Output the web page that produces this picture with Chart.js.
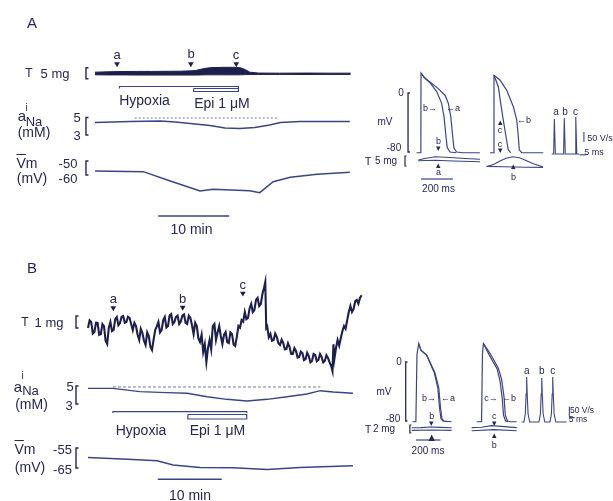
<!DOCTYPE html>
<html><head><meta charset="utf-8">
<script src="https://cdn.jsdelivr.net/npm/chart.js@4.4.1/dist/chart.umd.min.js"></script>
<style>
html,body{margin:0;padding:0;background:#fff;}
#wrap{position:relative;width:613px;height:501px;overflow:hidden;font-family:"Liberation Sans",Arial,Helvetica,sans-serif;color:#25284f;}
#c{position:absolute;left:0;top:0;}
.t{position:absolute;transform:translate(-50%,-50%);white-space:nowrap;line-height:1;}
</style></head>
<body><div id="wrap"><canvas id="c" width="613" height="501"></canvas></div>
<script>
// ================= DATA =================
// ---- Panel A, slow time course (time in min) ----
const tA_T   = [0,2,4,6,8,10,12,13.5,14.2,14.9,15.6,16.5,18,19.5,20.5,21.2,21.8,23,26,30,33,36];
const TA_hi  = [0.6,0.8,0.9,0.95,0.95,1.0,1.05,1.2,1.4,1.9,2.4,2.7,2.8,2.8,2.6,1.7,0.6,0.2,0.15,0.2,0.15,0.15];   // tension envelope, mg
const TA_lo  = [-0.6,-0.65,-0.65,-0.7,-0.7,-0.7,-0.7,-0.7,-0.7,-0.65,-0.6,-0.6,-0.6,-0.6,-0.6,-0.5,-0.45,-0.4,-0.4,-0.45,-0.4,-0.4];
const marksA_t = [3.1,13.5,19.9];
const markLabels = ['a','b','c'];
const hypoxiaA = [3.45,20.2];
const epiA     = [13.9,20.2];
const tA_Na  = [0,4.9,9.2,11.3,14.1,16.2,18.3,20.4,22.5,24.6,26.1,28.9,33.1,35.9];
const NaA    = [4.43,4.54,4.6,4.49,4.26,4.09,3.8,3.74,3.86,4.14,4.43,4.54,4.54,4.54];   // mM
const NaA_ref = {t:[5.6,25.6], v:4.94};
const tA_Vm  = [0,6.8,10.6,14.8,16.6,21.8,23.2,25.1,27.5,31.3,35.9];
const VmA    = [-57.1,-57.6,-64.3,-71.4,-70.2,-71.2,-72.6,-64.8,-61.6,-59.5,-58.1];    // mV

// ---- Panel B, slow time course (time in min) ----
const tB_T = [0,0.25,0.5,0.75,1,1.25,1.5,1.75,2,2.25,2.5,2.75,3,3.25,3.5,3.75,4,4.25,4.5,4.75,5,5.25,5.5,5.75,6,6.25,6.5,6.75,7,7.25,7.5,7.75,8,8.25,8.5,8.75,9,9.25,9.5,9.75,10,10.25,10.5,10.75,11,11.25,11.5,11.75,12,12.25,12.5,12.75,13,13.25,13.5,13.75,14,14.25,14.5,14.75,15,15.25,15.5,15.75,16,16.25,16.5,16.75,17,17.25,17.5,17.75,18,18.25,18.5,18.75,19,19.25,19.5,19.75,20,20.25,20.5,20.75,21,21.25,21.5,21.75,22,22.25,22.5,22.75,23,23.25,23.5,23.75,24,24.25,24.5,24.75,25,25.25,25.5,25.75,26,26.25,26.5,26.75,27,27.25,27.5,27.7,27.85,28,28.25,28.5,28.75,29,29.25,29.5,29.75,30,30.25,30.5,30.75,31,31.25,31.5,31.75,32,32.25,32.5,32.75,33,33.25,33.5,33.75,34,34.25,34.5,34.75,35,35.25,35.5,35.75,36,36.25,36.5,36.75,37,37.25,37.5,37.75,38,38.2,38.35,38.5,38.75,39,39.25,39.5,39.75,40,40.25,40.5,40.75,41,41.25,41.5,41.75,42,42.25,42.5,42.75];
const TB = [0.17,0.8,0.67,-0.3,-0.17,0.6,0.58,-0.4,-0.33,0.5,0.33,-0.9,-1.17,0.2,0.67,-0.1,0,0.9,1.08,0.4,0.58,1.1,1.17,0.6,0.67,1.1,1.0,0.5,0,0.6,0.33,-0.4,-0.83,0.1,-0.25,-0.9,-1.25,-0.2,-0.5,-1.4,-1.67,-0.8,0,0.3,0.67,-0.2,0,0.8,1.08,0.2,0.33,1.2,1.33,0.5,0.67,1.1,1.2,0.5,0.7,1.2,1.3,0.6,0.5,1.2,1.0,0.4,-0.33,0.6,0.33,-0.7,-1.0,-0.4,-1.83,-1.2,-2.67,-1.5,-0.83,-1.6,0.33,0.5,-0.83,-0.2,0.33,-0.5,-1.17,-0.4,-0.17,-1.0,-1.08,-0.2,-0.33,-1.2,-1.33,-0.6,0.33,0.2,0.83,0.7,1.5,0.9,1.0,1.8,2.17,1.5,1.67,2.5,2.67,2.0,2.17,3.0,3.5,4.0,0.17,0.3,-0.6,-0.33,-0.9,-0.83,-0.3,-0.58,-1.1,-1.25,-0.8,-1.08,-1.6,-1.58,-1.1,-1.42,-2.0,-2.0,-1.5,-1.75,-2.3,-2.25,-1.8,-1.92,-2.5,-2.42,-1.9,-2.17,-2.7,-2.58,-2.0,-2.08,-2.6,-2.5,-2.0,-2.25,-2.7,-2.58,-2.1,-2.33,-2.7,-3.0,-3.42,-1.2,-2.4,-1.5,-0.83,-1.3,-0.67,-0.1,0.33,0.1,0.83,1.5,2.0,1.5,1.75,2.4,2.5,2.2,2.67,2.9]; // mg
const marksB_t = [3.95,14.8,24.2];
const hypoxiaB = [3.9,24.8];
const epiB     = [15.6,24.8];
const tB_Na = [0,3.9,8.1,12.3,15.5,18.6,21.7,24.8,28.0,31.1,34.2,36.3,38.3,41.4];
const NaB   = [4.74,4.74,4.37,4.26,4.19,3.81,3.52,3.33,3.52,3.81,4.11,4.48,4.33,4.19];   // mM
const NaB_ref = {t:[3.9,36.3], v:4.89};
const tB_Vm = [0,7.0,10.8,13.3,17.5,22.7,28.0,33.1,41.4];
const VmB   = [-59.7,-60.7,-61.4,-63.5,-64.7,-64.9,-65.7,-64.7,-63.9];                   // mV
const scaleMin = 10;       // "10 min" bar

// ---- Action potentials [ms, mV], tension [ms, mg], dV/dt [ms, V/s] ----
const apA1_a = [[-28,-81],[-1,-81],[0,27],[25,20],[56,15],[108,6],[150,-3],[171,-14],[186,-32],[198,-59],[206,-75],[223,-80],[260,-81],[368,-81]];
const apA1_b = [[0,27],[25,20],[56,14],[98,2],[129,-14],[144,-32],[156,-59],[164,-74],[181,-80],[220,-81]];
const tnA1_b = [[-17,0.5],[25,1.25],[88,2.15],[181,1.75],[275,1.25],[369,0.85]];
const tnA1_a = [[-17,0.15],[88,0.4],[200,0],[369,-0.35]];
const apA2_b = [[-25,-81],[-1,-81],[0,24],[37,17.6],[79,4],[121,-18.6],[142,-36.6],[152,-59],[158,-77],[173,-81],[308,-81]];
const apA2_c = [[0,24],[27,8.5],[42,-14],[58,-36.6],[75,-59],[89,-77],[104,-81]];
const tnA2_b = [[-46,-2.85],[0,-1.6],[37,0],[80,1.5],[119,2.1],[160,1.6],[200,0.3],[250,-1.5],[306,-2.85]];
const tnA2_c = [[-46,-2.7],[60,-2.9],[200,-3.1],[306,-3.2]];
const dvA    = [[0,0],[1.4,0],[1.9,175],[2.6,0],[8.5,0],[9.0,180],[9.7,0],[16.7,0],[17.2,185],[17.9,0],[19.5,0]];

const apB1_a = [[-30,-81],[-1,-81],[8,10],[22,25],[40,16],[87,9.5],[155,-15],[186,-35],[200,-62],[212,-77],[228,-80],[291,-81]];
const apB1_b = [[22,25],[40,16],[87,9],[150,-15],[178,-35],[192,-62],[204,-77],[220,-80],[260,-81]];
const tnB1_a = [[-35,0.55],[40,0.6],[120,0.75],[200,0.65],[291,0.55]];
const tnB1_b = [[-35,-0.1],[120,0],[291,-0.1]];
const apB2_b = [[-41,-81],[-1,-81],[6,10],[14,25],[68,11.8],[136,-8.5],[163,-24],[182,-47],[193,-72],[209,-79.6],[230,-81],[286,-81]];
const apB2_c = [[14,25],[60,10],[125,-9],[150,-26],[168,-50],[178,-72],[195,-80],[215,-81]];
const tnB2_c = [[-82,0.6],[0,0.7],[80,1.1],[160,0.9],[286,0.6]];
const tnB2_b = [[-82,-0.2],[100,0.1],[286,-0.2]];
const dvB    = [[0,0],[2,0],[3.3,40],[4,140],[4.5,225],[5,140],[5.8,40],[7.3,0],[15.7,0],[17,40],[17.7,140],[18.2,220],[18.7,140],[19.5,40],[21,0],[25.7,0],[27,40],[27.7,140],[28.2,225],[28.7,140],[29.5,40],[31,0],[40.9,0]];
const scaleMs = 200, scaleVs = 50, scaleDvMs = 5;

// ================= LAYOUT =================
const W = 613, H = 501;
const C = {trace:'#3b4586', dark:'#1d1f4c', text:'#25284f', dash:'#7278a8'};
function xs(p1,v1,p2,v2){const k=(v2-v1)/(p2-p1);return {type:'linear',display:false,min:v1-p1*k,max:v1+(W-p1)*k};}
function ys(p1,v1,p2,v2){const k=(v2-v1)/(p2-p1);return {type:'linear',display:false,max:v1-p1*k,min:v1+(H-p1)*k};}
const scales = {
  x:{type:'linear',display:false}, y:{type:'linear',display:false},
  yPix:{type:'linear',display:false,min:0,max:H,reverse:true},
  xA: xs(95,0,166,10),   xB: xs(88,0,152,10),
  yTA: ys(73.5,0,62.5,5), yNaA: ys(117.5,5,135,3), yVmA: ys(161,-50,175,-60),
  yTB: ys(330,0,318,1),   yNaB: ys(386,5,404,3),   yVmB: ys(448,-55,468,-65),
  xA1: xs(421,0,453,200), xA2: xs(494,0,526,200), xAd: xs(551.7,0,558.7,5),
  yApA: ys(93,0,152,-80), yTpA: ys(161,0,151,5),  yDvA: ys(154,0,144,50),
  xB1: xs(416,0,440.5,200), xB2: xs(481.7,0,506.2,200), xBd: xs(521.7,0,527.2,5),
  yApB: ys(362,0,421,-80), yTpB: ys(430,0,422,2), yDvB: ys(422,0,412,50)
};

const DS = [];
const zip = (t,v)=>t.map((x,i)=>[x,v[i]]);
function line(xid,yid,pts,opt){
  DS.push(Object.assign({data:pts.map(p=>({x:p[0],y:p[1]})),xAxisID:xid,yAxisID:yid,
    borderColor:C.trace,borderWidth:1.3,pointRadius:0,fill:false,tension:0},opt||{}));
}
function bracket(xid,yid,x,dx,y1,y2,opt){line(xid,yid,[[x+dx,y1],[x,y1],[x,y2],[x+dx,y2]],Object.assign({borderColor:C.text,borderWidth:1.4},opt||{}));}
function marks(xid,yid,ts,ys_){
  DS.push({data:ts.map((t,i)=>({x:t,y:ys_[i]})),xAxisID:xid,yAxisID:yid,showLine:false,
    pointStyle:'triangle',rotation:180,pointRadius:3.3,pointBackgroundColor:C.dark,pointBorderColor:C.dark,pointBorderWidth:0});
}

// --- Panel A left ---
line('xA','yTA',zip(tA_T,TA_hi),{borderColor:C.dark,backgroundColor:C.dark,fill:'+1',borderWidth:1});
line('xA','yTA',zip(tA_T,TA_lo),{borderColor:C.dark,borderWidth:1});
marks('xA','yPix',marksA_t,[64,64,64]);
bracket('xA','yTA',-1.27,0.35,2.6,-2.4);
line('xA','yPix',[[hypoxiaA[0],88.5],[hypoxiaA[0],86.5],[hypoxiaA[1],86.5],[hypoxiaA[1],88.5]],{borderWidth:1.2});
line('xA','yPix',[[epiA[0],88.5],[epiA[1],88.5],[epiA[1],91.5],[epiA[0],91.5],[epiA[0],88.5]],{borderWidth:1.2});
line('xA','yNaA',zip(tA_Na,NaA),{borderWidth:1.4});
line('xA','yNaA',[[NaA_ref.t[0],NaA_ref.v],[NaA_ref.t[1],NaA_ref.v]],{borderColor:C.dash,borderWidth:1,borderDash:[2,2]});
bracket('xA','yNaA',-1.27,0.35,5,3);
line('xA','yVmA',zip(tA_Vm,VmA),{borderWidth:1.5});
bracket('xA','yVmA',-1.27,0.35,-50,-60);
line('xA','yPix',[[8.9,216],[8.9+scaleMin,216]],{borderWidth:1.4});

// --- Panel B left ---
line('xB','yTB',zip(tB_T,TB),{borderColor:C.dark,borderWidth:2.1});
marks('xB','yPix',marksB_t,[308,307.5,293.3]);
bracket('xB','yTB',-1.875,0.4,1.17,0.17);
line('xB','yNaB',zip(tB_Na,NaB),{borderWidth:1.4});
line('xB','yNaB',[[NaB_ref.t[0],NaB_ref.v],[NaB_ref.t[1],NaB_ref.v]],{borderColor:C.dash,borderWidth:1,borderDash:[3,2]});
bracket('xB','yNaB',-1.875,0.4,5,3);
line('xB','yPix',[[hypoxiaB[0],413],[hypoxiaB[0],411.7],[hypoxiaB[1],411.7],[hypoxiaB[1],413]],{borderWidth:1.2});
line('xB','yPix',[[epiB[0],414.5],[epiB[1],414.5],[epiB[1],419],[epiB[0],419],[epiB[0],414.5]],{borderWidth:1.2});
line('xB','yVmB',zip(tB_Vm,VmB),{borderWidth:1.5});
bracket('xB','yVmB',-1.875,0.4,-55,-65);
line('xB','yPix',[[10.9,479.3],[10.9+scaleMin,479.3]],{borderWidth:1.4});

// --- Panel A right ---
line('xA1','yApA',apA1_a,{borderWidth:1.2});
line('xA1','yApA',apA1_b,{borderWidth:1.2});
line('xA1','yTpA',tnA1_b,{borderWidth:1.1});
line('xA1','yTpA',tnA1_a,{borderWidth:1.1});
bracket('xA1','yApA',-81,12,0,-80,{borderWidth:1.3});
bracket('xA1','yTpA',-100,10,2.5,-2.5,{borderWidth:1.2});
line('xA1','yPix',[[0,179],[scaleMs,179]],{borderWidth:1.2});
line('xA2','yApA',apA2_b,{borderWidth:1.2});
line('xA2','yApA',apA2_c,{borderWidth:1.2});
line('xA2','yTpA',tnA2_b,{borderWidth:1.1});
line('xA2','yTpA',tnA2_c,{borderWidth:1.1});
line('xAd','yDvA',dvA,{borderWidth:1.1});
line('xAd','yDvA',[[23,60],[23,60+scaleVs]],{borderWidth:1.1});
line('xAd','yDvA',[[19.7,-4],[19.7+scaleDvMs,-4]],{borderWidth:1.1});

// --- Panel B right ---
line('xB1','yApB',apB1_a,{borderWidth:1.2});
line('xB1','yApB',apB1_b,{borderWidth:1.2});
line('xB1','yTpB',tnB1_a,{borderWidth:1.1});
line('xB1','yTpB',tnB1_b,{borderWidth:1.1});
bracket('xB1','yApB',-84,14,0,-80,{borderWidth:1.3});
bracket('xB1','yTpB',-50,12,1.25,-0.75,{borderWidth:1.2});
line('xB1','yPix',[[0,440],[scaleMs,440]],{borderWidth:1.2});
line('xB2','yApB',apB2_b,{borderWidth:1.2});
line('xB2','yApB',apB2_c,{borderWidth:1.2});
line('xB2','yTpB',tnB2_c,{borderWidth:1.1});
line('xB2','yTpB',tnB2_b,{borderWidth:1.1});
line('xBd','yDvB',dvB,{borderWidth:1.1});
line('xBd','yDvB',[[43.3,26.5],[43.3,26.5+scaleVs]],{borderWidth:1.1});
line('xBd','yDvB',[[43.3,22],[43.3+scaleDvMs,22]],{borderWidth:1.1});

new Chart(document.getElementById('c'),{
  type:'line',
  data:{datasets:DS},
  options:{responsive:false,animation:false,events:[],
    layout:{padding:0,autoPadding:false},
    plugins:{legend:{display:false},tooltip:{enabled:false},title:{display:false}},
    scales:scales}
});

// ================= TEXT =================
const OV = '<span style="text-decoration:overline">V</span>m';
const LABELS = [
 ['A',32,22,15],
 ['T',29,73,12],['5 mg',55,73,13],
 [markLabels[0],117,53.5,13],[markLabels[1],191,53,13],[markLabels[2],236,53.5,13],
 ['Hypoxia',144.5,99.5,14],['Epi 1 μM',222,103,14],
 ['a',22,115,15],['i',26.5,107.5,10],['Na',34,120.5,13],['(mM)',34,132,14],['5',77,117,13],['3',77,134.5,13],
 [OV,27,163,14],['(mV)',32,177.5,14],['-50',68,163,13],['-60',68,178,13],
 ['10 min',191.5,228.5,14],
 ['T',368,161,11],['5 mg',386,161,10],
 ['0',401,93,10],['mV',385,122,10],['-80',394,148,10],
 ['b→',430,107.5,9],['←a',453,107.5,9],
 ['b',438.5,140.5,9],['▾',438.5,147.5,9],['▴',438.5,165,9],['a',438.5,171.5,9],
 ['200 ms',438.5,188.5,10],
 ['←b',524,119.5,9],
 ['▴',500,122,9],['c',500,130,9],['c',500,144,9],['▾',500,149.5,9],
 ['▴',513.5,166,9],['b',513.5,176.5,9],
 [markLabels[0],556,112,10],[markLabels[1],565,112,10],[markLabels[2],575.5,112,10],
 ['50 V/s',600,137.5,9],['5 ms',594,152,9],

 ['B',32,267,15],
 ['T',25,322,12],['1 mg',49,322,13],
 [markLabels[0],113.3,298,13],[markLabels[1],182.7,298,13],[markLabels[2],242.7,284,13],
 ['a',18,386,15],['i',22.7,375.5,10],['Na',30.5,390,13],['(mM)',31.5,403.5,14],['5',70,386,13],['3',69,404.5,13],
 ['Hypoxia',141,429.5,14],['Epi 1 μM',217.5,430,14],
 [OV,25,449,14],['(mV)',30,466.5,14],['-55',62.5,449,13],['-65',62.5,469,13],
 ['10 min',190,495,14],
 ['T',368,429,11],['2 mg',384,429,10],
 ['0',399,362,10],['mV',384,391.5,10],['-80',393,419,10],
 ['b→',429,398,9],['←a',448,398,9],
 ['b',431.7,416,9],['▾',431.7,422.5,9],['▲',431.7,437,11],
 ['200 ms',428,450.5,10],
 ['c→',491,398,9],['←b',509,398,9],
 ['c',494.3,416,9],['▾',494.3,422.5,9],['▴',494.3,435,9],['b',494.3,445,9],
 [markLabels[0],526.7,371,10],[markLabels[1],541.7,371,10],[markLabels[2],552.7,371,10],
 ['50 V/s',582,410,8.5],['5 ms',578,418.5,8.5]
];
const wrap = document.getElementById('wrap');
LABELS.forEach(([s,x,y,f])=>{
  const d=document.createElement('div');d.className='t';d.innerHTML=s;
  d.style.left=x+'px';d.style.top=y+'px';d.style.fontSize=f+'px';wrap.appendChild(d);
});
</script>
</body></html>
